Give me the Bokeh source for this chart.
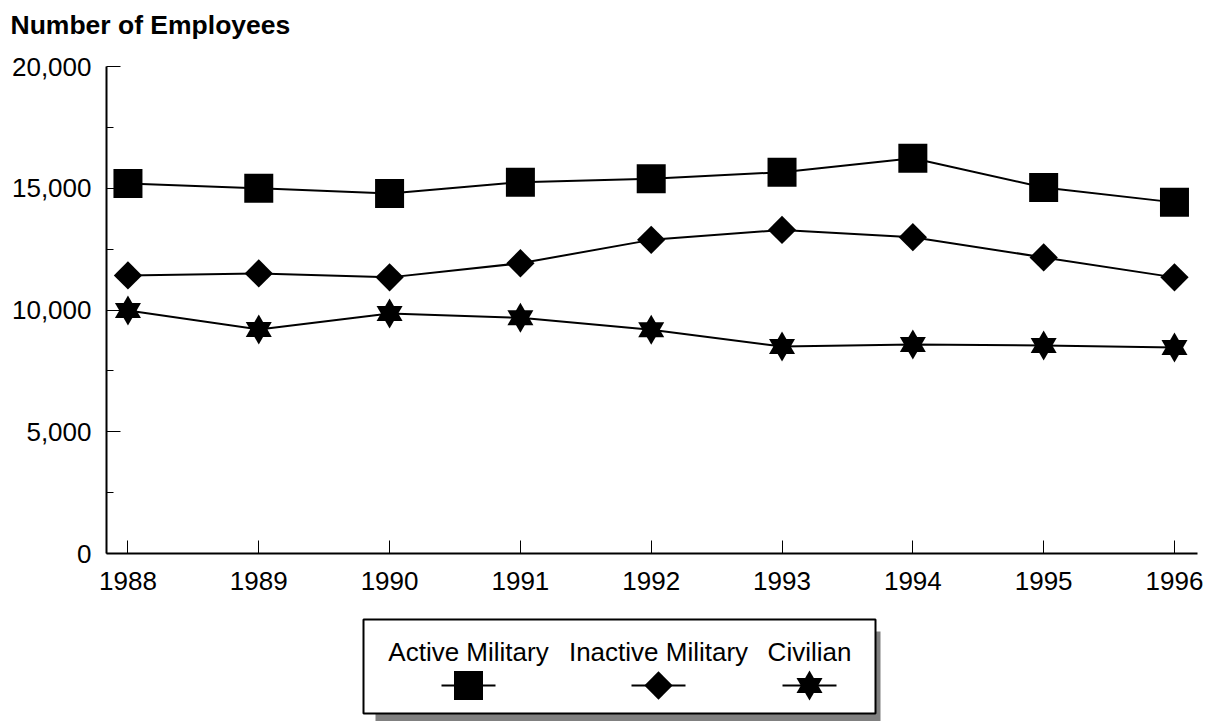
import math
from bokeh.plotting import figure
from bokeh.layouts import column
from bokeh.models import Range1d, FixedTicker, NumeralTickFormatter
from bokeh.core.properties import value
from bokeh.embed import file_html
from bokeh.resources import INLINE

# ---- data ----
years = [1988, 1989, 1990, 1991, 1992, 1993, 1994, 1995, 1996]
active_military = [15200, 15000, 14780, 15250, 15390, 15660, 16230, 15030, 14420]
inactive_military = [11420, 11500, 11340, 11920, 12880, 13290, 12990, 12160, 11340]
civilian = [9980, 9200, 9860, 9680, 9190, 8500, 8580, 8540, 8460]
y_ticks = [0, 5000, 10000, 15000, 20000]
y_minor_ticks = [2500, 7500, 12500, 17500]
series_names = ["Active Military", "Inactive Military", "Civilian"]
title_text = "Number of Employees"

FONT = "Liberation Sans"
FS = "26px"
W = 1207
LEFT, RIGHT = 106, 10

# ---- header: only the title ----
hdr = figure(width=W, height=49, x_range=Range1d(0, 1), y_range=Range1d(0, 1),
             output_backend="svg", toolbar_location=None, title=title_text,
             min_border_left=LEFT, min_border_right=RIGHT, min_border_top=0, min_border_bottom=0,
             x_axis_location=None, y_axis_location=None)
hdr.grid.visible = False
hdr.outline_line_color = None
hdr.title.text_font = FONT
hdr.title.text_font_size = "26.5px"
hdr.title.text_font_style = "bold"
hdr.title.text_color = "black"
hdr.title.align = "left"
hdr.title.offset = -96
hdr.title.standoff = 14

# ---- main chart ----
p = figure(width=W, height=557, x_range=Range1d(1987.836, 1996.176), y_range=Range1d(0, 20000),
           output_backend="svg", toolbar_location=None,
           min_border_left=LEFT, min_border_right=RIGHT, min_border_top=17, min_border_bottom=53)
p.grid.visible = False
p.outline_line_color = None

p.xaxis.ticker = FixedTicker(ticks=years)
p.yaxis.ticker = FixedTicker(ticks=y_ticks, minor_ticks=y_minor_ticks)
p.yaxis.formatter = NumeralTickFormatter(format="0,0")
for ax in (p.xaxis, p.yaxis):
    ax.axis_line_width = 2
    ax.axis_line_color = "black"
    ax.major_tick_out = 0
    ax.minor_tick_out = 0
    ax.major_tick_line_color = "black"
    ax.minor_tick_line_color = "black"
    ax.major_label_text_font = FONT
    ax.major_label_text_font_size = FS
    ax.major_label_text_color = "black"
p.yaxis.major_label_standoff = 15
p.xaxis.major_label_standoff = 18
p.xaxis.major_tick_in = 13
p.yaxis.major_tick_in = 14
p.yaxis.minor_tick_in = 7

for ys in (active_military, inactive_military, civilian):
    p.line(years, ys, line_color="black", line_width=2)

p.scatter(years, active_military, marker="square", size=29, fill_color="black", line_color=None)
p.scatter(years, inactive_military, marker="square", size=20, angle=math.pi / 4,
          fill_color="black", line_color=None)
p.scatter(years, civilian, marker="triangle", size=26, fill_color="black", line_color=None)
p.scatter(years, civilian, marker="inverted_triangle", size=26, fill_color="black", line_color=None)

# ---- legend (pixel coordinates) ----
lg = figure(width=W, height=115, x_range=Range1d(LEFT, W - RIGHT), y_range=Range1d(721, 606),
            output_backend="svg", toolbar_location=None,
            min_border_left=LEFT, min_border_right=RIGHT, min_border_top=0, min_border_bottom=0,
            x_axis_location=None, y_axis_location=None)
lg.grid.visible = False
lg.outline_line_color = None
lg.quad(left=[375], right=[880], top=[631], bottom=[721], fill_color="#808080", line_color=None)
lg.quad(left=[363], right=[875], top=[619], bottom=[713], fill_color="white",
        line_color="black", line_width=2)

centers = [468, 658, 809]
lg.text(x=centers, y=[651] * 3, text=series_names, text_font=value(FONT), text_font_size=FS,
        text_align="center", text_baseline="alphabetic", text_color="black")
lg.segment(x0=[c - 27 for c in centers], x1=[c + 27 for c in centers], y0=[685] * 3, y1=[685] * 3,
           line_color="black", line_width=2)
lg.scatter([centers[0]], [685], marker="square", size=29, fill_color="black", line_color=None)
lg.scatter([centers[1]], [685], marker="square", size=20, angle=math.pi / 4,
           fill_color="black", line_color=None)
lg.scatter([centers[2]], [685], marker="triangle", size=26, fill_color="black", line_color=None)
lg.scatter([centers[2]], [685], marker="inverted_triangle", size=26, fill_color="black", line_color=None)

layout = column(hdr, p, lg, spacing=0)
open("out.html", "w").write(file_html(layout, INLINE))
